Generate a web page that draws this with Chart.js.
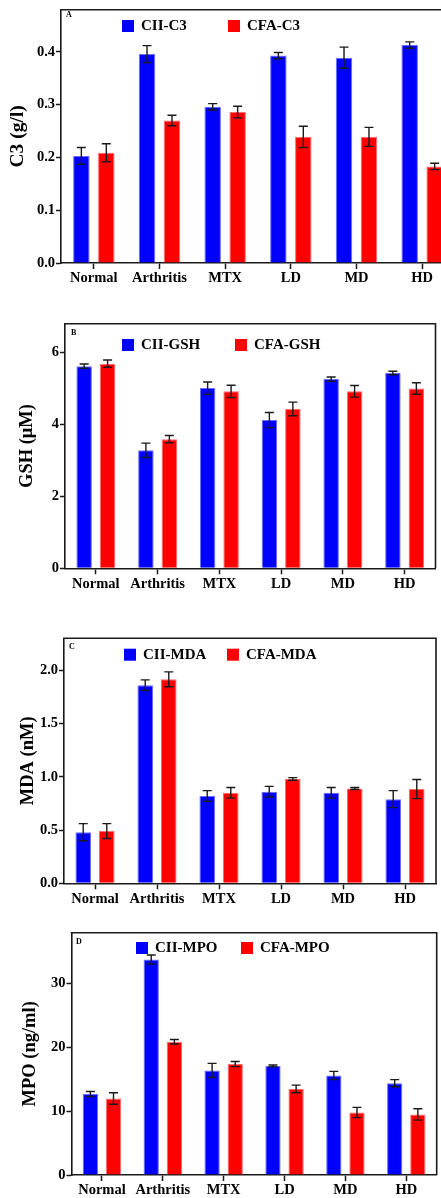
<!DOCTYPE html>
<html>
<head>
<meta charset="utf-8">
<script src="https://cdn.jsdelivr.net/npm/chart.js@4.4.1/dist/chart.umd.min.js"></script>
<style>
    html, body { margin: 0; padding: 0; background: #ffffff; overflow: hidden; }
    #page { position: relative; width: 441px; height: 1198px; overflow: hidden; background: #ffffff; }
    .panel { position: absolute; left: 0; }
</style>
</head>
<body>
<div id="page">
    <div class="panel" style="top:0px"><canvas id="chartA" width="456" height="290"></canvas></div>
    <div class="panel" style="top:300px"><canvas id="chartB" width="441" height="300"></canvas></div>
    <div class="panel" style="top:610px"><canvas id="chartC" width="441" height="300"></canvas></div>
    <div class="panel" style="top:910px"><canvas id="chartD" width="441" height="288"></canvas></div>
</div>
<script>

/***************************************************/
/********************** DATA ***********************/
/***************************************************/

const groups = ['Normal', 'Arthritis', 'MTX', 'LD', 'MD', 'HD'];

// A - C3 (g/l)
const c3Cii = [0.203, 0.396, 0.296, 0.393, 0.389, 0.413];
const c3CiiErr = [0.016, 0.016, 0.006, 0.006, 0.020, 0.006];
const c3Cfa = [0.209, 0.270, 0.286, 0.239, 0.239, 0.183];
const c3CfaErr = [0.017, 0.010, 0.011, 0.020, 0.018, 0.006];
const c3Ticks = [0, 0.1, 0.2, 0.3, 0.4];

// B - GSH (uM)
const gshCii = [5.62, 3.28, 5.01, 4.12, 5.26, 5.43];
const gshCiiErr = [0.06, 0.20, 0.17, 0.21, 0.06, 0.05];
const gshCfa = [5.69, 3.59, 4.92, 4.43, 4.92, 5.00];
const gshCfaErr = [0.10, 0.10, 0.17, 0.19, 0.16, 0.16];
const gshTicks = [0, 2, 4, 6];

// C - MDA (nM)
const mdaCii = [0.48, 1.86, 0.82, 0.86, 0.85, 0.79];
const mdaCiiErr = [0.08, 0.05, 0.05, 0.05, 0.05, 0.08];
const mdaCfa = [0.49, 1.915, 0.85, 0.98, 0.89, 0.885];
const mdaCfaErr = [0.07, 0.07, 0.05, 0.012, 0.01, 0.09];
const mdaTicks = [0, 0.5, 1.0, 1.5, 2.0];

// D - MPO (ng/ml)
const mpoCii = [12.7, 33.8, 16.4, 17.1, 15.6, 14.4];
const mpoCiiErr = [0.4, 0.7, 1.1, 0.15, 0.65, 0.55];
const mpoCfa = [12.0, 20.9, 17.4, 13.5, 9.8, 9.5];
const mpoCfaErr = [0.9, 0.35, 0.4, 0.6, 0.8, 0.9];
const mpoTicks = [0, 10, 20, 30];


/***************************************************/
/******************** SETTINGS *********************/
/***************************************************/

const blue = '#0000ff';
const red = '#ff0000';
const ink = '#1a1a1a';
const serif = '"Liberation Serif", "Times New Roman", serif';

Chart.defaults.font.family = serif;
Chart.defaults.color = '#000000';


/***************************************************/
/********************* PLUGINS *********************/
/***************************************************/

// error bars on top of every bar, read from dataset.err
const errorBars = {
    id: 'errorBars',
    afterDatasetsDraw(chart) {
        const ctx = chart.ctx;
        const yScale = chart.scales.y;
        ctx.save();
        ctx.strokeStyle = ink;
        ctx.lineWidth = 1.4;
        chart.data.datasets.forEach(function(ds, i) {
            const meta = chart.getDatasetMeta(i);
            meta.data.forEach(function(bar, j) {
                const v = ds.data[j];
                const e = ds.err[j];
                const yTop = yScale.getPixelForValue(v + e);
                const yBot = yScale.getPixelForValue(v - e);
                const half = 4.5;
                ctx.beginPath();
                ctx.moveTo(bar.x, yTop);
                ctx.lineTo(bar.x, yBot);
                ctx.moveTo(bar.x - half, yTop);
                ctx.lineTo(bar.x + half, yTop);
                ctx.moveTo(bar.x - half, yBot);
                ctx.lineTo(bar.x + half, yBot);
                ctx.stroke();
            });
        });
        ctx.restore();
    }
};

// frame (top + right), panel letter and the legend inside the plot
const panelDecor = {
    id: 'panelDecor',
    afterDraw(chart, args, opts) {
        const ctx = chart.ctx;
        const area = chart.chartArea;
        ctx.save();

        ctx.strokeStyle = ink;
        ctx.lineWidth = 1.6;
        ctx.beginPath();
        ctx.moveTo(area.left - 0.8, area.top);
        ctx.lineTo(area.right, area.top);
        ctx.lineTo(area.right, area.bottom);
        ctx.stroke();

        ctx.fillStyle = '#000000';
        ctx.textBaseline = 'middle';
        ctx.textAlign = 'left';
        ctx.font = 'bold 8px ' + serif;
        ctx.fillText(opts.letter, opts.letterX, opts.letterY);

        ctx.font = 'bold 15px ' + serif;
        chart.data.datasets.forEach(function(ds, i) {
            const x = opts.legendX[i];
            ctx.fillStyle = ds.backgroundColor;
            ctx.fillRect(x, opts.legendY, 12, 12);
            ctx.fillStyle = '#000000';
            ctx.fillText(ds.label, x + 19, opts.legendY + 6.5);
        });

        ctx.restore();
    }
};


/***************************************************/
/**************** GENERIC SETTINGS *****************/
/***************************************************/

function createDataset(label, values, errors, color, edge) {
    return {
        label: label,
        data: values,
        err: errors,
        backgroundColor: color,
        borderColor: edge,
        borderWidth: 1,
        categoryPercentage: 0.76,
        barPercentage: 0.66
    };
}

function drawPanel(p) {
    var data = {
        labels: groups,
        datasets: [
            createDataset(p.names[0], p.cii, p.ciiErr, blue, '#6a6aff'),
            createDataset(p.names[1], p.cfa, p.cfaErr, red, '#ff6a6a')
        ]
    };

    var options = {
        responsive: false,
        animation: false,
        devicePixelRatio: 1,
        layout: {
            padding: { top: p.padTop, right: p.padRight, left: 0, bottom: 0 }
        },
        plugins: {
            legend: { display: false },
            tooltip: { enabled: false },
            panelDecor: p.decor
        },
        scales: {
            x: {
                type: 'category',
                offset: true,
                afterFit: function(scale) { scale.height = p.xHeight; },
                grid: {
                    offset: false,
                    drawOnChartArea: false,
                    drawTicks: true,
                    tickLength: 6,
                    tickColor: ink,
                    tickWidth: 1.5
                },
                border: { color: ink, width: 1.6 },
                ticks: {
                    font: { size: 14.5, weight: 'bold' },
                    color: '#000000',
                    padding: 1,
                    maxRotation: 0,
                    autoSkip: false
                }
            },
            y: {
                min: 0,
                max: p.max,
                afterFit: function(scale) { scale.width = p.left; },
                afterBuildTicks: function(scale) {
                    scale.ticks = p.ticks.map(function(v) { return { value: v }; });
                },
                title: {
                    display: true,
                    text: p.title,
                    font: { size: p.titleSize, weight: 'bold' },
                    color: '#000000',
                    padding: { top: p.titlePad, bottom: 0 }
                },
                grid: {
                    drawOnChartArea: false,
                    drawTicks: true,
                    tickLength: 5,
                    tickColor: ink,
                    tickWidth: 1.5
                },
                border: { color: ink, width: 1.6 },
                ticks: {
                    font: { size: 14.5, weight: 'bold' },
                    color: '#000000',
                    padding: 1,
                    callback: function(v) { return v.toFixed(p.digits); }
                }
            }
        }
    };

    const ctx = document.getElementById(p.id).getContext('2d');
    return new Chart(ctx, {
        type: 'bar',
        data: data,
        options: options,
        plugins: [errorBars, panelDecor]
    });
}


/***************************************************/
/***************** DRAWING CHARTS ******************/
/***************************************************/

drawPanel({
    id: 'chartA', names: ['CII-C3', 'CFA-C3'],
    cii: c3Cii, ciiErr: c3CiiErr, cfa: c3Cfa, cfaErr: c3CfaErr,
    ticks: c3Ticks, max: 0.48, digits: 1,
    title: 'C3 (g/l)', titleSize: 19.5, titlePad: 6.3,
    left: 61, padTop: 6.5, padRight: 1, xHeight: 27,
    decor: { letter: 'A', letterX: 66, letterY: 15, legendX: [122, 228], legendY: 20 }
});

drawPanel({
    id: 'chartB', names: ['CII-GSH', 'CFA-GSH'],
    cii: gshCii, ciiErr: gshCiiErr, cfa: gshCfa, cfaErr: gshCfaErr,
    ticks: gshTicks, max: 6.8, digits: 0,
    title: 'GSH (μM)', titleSize: 18.5, titlePad: 15.9,
    left: 65, padTop: 23.7, padRight: 5.5, xHeight: 31.7,
    decor: { letter: 'B', letterX: 71, letterY: 33, legendX: [122, 235], legendY: 39 }
});

drawPanel({
    id: 'chartC', names: ['CII-MDA', 'CFA-MDA'],
    cii: mdaCii, ciiErr: mdaCiiErr, cfa: mdaCfa, cfaErr: mdaCfaErr,
    ticks: mdaTicks, max: 2.3, digits: 1,
    title: 'MDA (nM)', titleSize: 18.5, titlePad: 16.9,
    left: 64, padTop: 28.3, padRight: 5, xHeight: 26.7,
    decor: { letter: 'C', letterX: 69, letterY: 36.7, legendX: [124, 227], legendY: 38.7 }
});

drawPanel({
    id: 'chartD', names: ['CII-MPO', 'CFA-MPO'],
    cii: mpoCii, ciiErr: mpoCiiErr, cfa: mpoCfa, cfaErr: mpoCfaErr,
    ticks: mpoTicks, max: 38, digits: 0,
    title: 'MPO (ng/ml)', titleSize: 18.5, titlePad: 18.9,
    left: 71.5, padTop: 22.7, padRight: 4.3, xHeight: 23,
    decor: { letter: 'D', letterX: 76, letterY: 31.7, legendX: [136, 241], legendY: 32 }
});

</script>
</body>
</html>
